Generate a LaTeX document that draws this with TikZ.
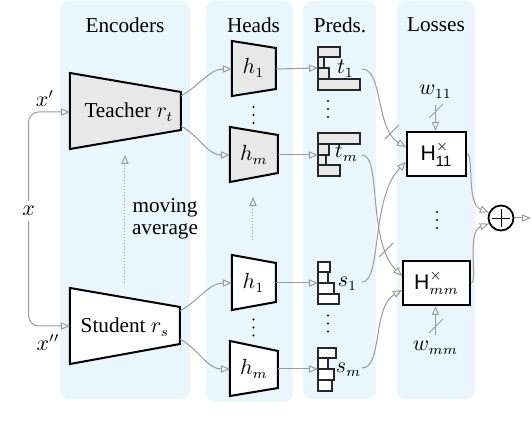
\documentclass[tikz,border=0pt]{standalone}
\usepackage{amsmath}
\usepackage[no-math]{fontspec}
\setmainfont{Liberation Serif}
\setsansfont{Liberation Sans}
\usetikzlibrary{arrows.meta,calc}

\definecolor{panelblue}{RGB}{233,246,253}
\definecolor{lightfill}{RGB}{232,232,232}
\definecolor{conngray}{RGB}{155,155,155}

\begin{document}
\begin{tikzpicture}[x=0.5pt,y=-0.5pt,
  font=\fontsize{10.6}{12.7}\selectfont,
  panel/.style={fill=panelblue,rounded corners=4.5pt},
  title/.style={inner sep=0pt},
  teach/.style={draw=black,line width=1pt,fill=lightfill},
  stud/.style={draw=black,line width=1pt,fill=white},
  tbar/.style={draw=black!85,line width=0.65pt,fill=lightfill},
  sbar/.style={draw=black!85,line width=0.65pt,fill=white},
  conn/.style={draw=conngray,line width=0.5pt,-{Triangle[open,length=4.5pt,width=3.6pt]}},
  slashmark/.style={draw=conngray,line width=0.5pt},
  lossbox/.style={draw=black,line width=1pt,minimum height=22pt,inner sep=0pt,fill=white},
  lbl/.style={inner sep=1pt},
  vdotsmark/.pic={\fill (0,0) circle (0.55pt) (0,8) circle (0.55pt) (0,16) circle (0.55pt);},
]
\useasboundingbox (0,0) rectangle (532,432);

% panels
\fill[panel] (60,1) rectangle (190,399);
\fill[panel] (206,1) rectangle (293,402);
\fill[panel] (303,1) rectangle (376,399);
\fill[panel] (397,1) rectangle (475,399);

% titles
\node[title,anchor=base] (tEnc) at (125,33) {Encoders};
\node[title,anchor=base] (tHeads) at (253.5,33) {Heads};
\node[title,anchor=base] (tPreds) at (340,33) {Preds.};
\node[title,anchor=base] (tLoss) at (436,32) {Losses};

% encoders
\draw[teach] (70,73) -- (181,92) -- (181,130) -- (70,149) -- cycle;
\node[lbl,anchor=base] (T) at (129,118) {Teacher $r_t$};
\draw[stud] (70,288) -- (180,307) -- (180,344) -- (70,364) -- cycle;
\node[lbl,anchor=base] (S) at (125,333) {Student $r_s$};
\coordinate (Tin) at (70,112);
\coordinate (Sin) at (70,326);
\coordinate (To1) at (181,96);
\coordinate (To2) at (181,126);
\coordinate (So1) at (180,311);
\coordinate (So2) at (180,339);

% input
\node[inner sep=2.5pt] (xin) at (28.7,211) {$x$};
\node[lbl] (xp) at (45,99) {$x'$};
\node[lbl] (xpp) at (48,343) {$x''$};
\draw[conn,rounded corners=5pt] (xin) |- (Tin);
\draw[conn,rounded corners=5pt] (xin) |- (Sin);

% moving average
\coordinate (maS) at (125,283);
\coordinate (maT) at (125,155);
\draw[conn,densely dotted] (maS) -- (maT);
\node[lbl,align=center,font=\fontsize{10.6}{11}\selectfont] (ma) at (165,219) {moving\\average};
\coordinate (hdS) at (253,240);
\coordinate (hdT) at (253,197);
\draw[conn,densely dotted] (hdS) -- (hdT);

% heads
\draw[teach] (232,41) -- (276,48) -- (276,89) -- (232,96) -- cycle;
\node[lbl] (th1) at (253.5,68) {$h_1$};
\draw[teach] (230,127) -- (278,135) -- (278,173) -- (230,182) -- cycle;
\node[lbl] (thm) at (254,155) {$h_m$};
\draw[stud] (232,255) -- (276,263) -- (276,302) -- (232,310) -- cycle;
\node[lbl] (sh1) at (253.5,283) {$h_1$};
\draw[stud] (230,341) -- (278,351) -- (278,388) -- (230,396) -- cycle;
\node[lbl] (shm) at (254,369) {$h_m$};
\pic at (253.5,107) {vdotsmark};
\pic at (253.5,319.5) {vdotsmark};

\coordinate (th1in) at (232,69);  \coordinate (th1out) at (276,69);
\coordinate (thmin) at (230,155); \coordinate (thmout) at (278,155);
\coordinate (sh1in) at (232,283); \coordinate (sh1out) at (276,283);
\coordinate (shmin) at (230,369); \coordinate (shmout) at (278,369);

\draw[conn] (To1) to[out=30,in=180] (th1in);
\draw[conn] (To2) to[out=-30,in=180] (thmin);
\draw[conn] (So1) to[out=30,in=180] (sh1in);
\draw[conn] (So2) to[out=-30,in=180] (shmin);

% predictions
\foreach \w/\a/\b in {22/47/57, 6/57/68, 11/68/79, 42/79/90}
  \draw[tbar] (318,\a) rectangle (318+\w,\b);
\foreach \w/\a/\b in {42/133/144, 11/144/155, 8/155/165, 22/165/176}
  \draw[tbar] (318,\a) rectangle (318+\w,\b);
\foreach \w/\a/\b in {12/262/272, 10/272/283, 16/283/294, 21/294/304}
  \draw[sbar] (318,\a) rectangle (318+\w,\b);
\foreach \w/\a/\b in {18/348/358, 10/358/369, 16/369/380, 14/380/391}
  \draw[sbar] (318,\a) rectangle (318+\w,\b);
\coordinate (pt1in) at (318,68);
\coordinate (ptmin) at (318,155);
\coordinate (ps1in) at (318,283);
\coordinate (psmin) at (318,369);
\node[lbl,anchor=base] (pt1) at (345.5,74) {$t_1$};
\node[lbl,anchor=base] (ptm) at (346.5,158) {$t_m$};
\node[lbl,anchor=base] (ps1) at (347.5,287) {$s_1$};
\node[lbl,anchor=base] (psm) at (348.5,373) {$s_m$};
\pic at (328,101) {vdotsmark};
\pic at (328,315.5) {vdotsmark};

\draw[conn] (th1out) -- (pt1in);
\draw[conn] (thmout) -- (ptmin);
\draw[conn] (sh1out) -- (ps1in);
\draw[conn] (shmout) -- (psmin);

\coordinate (t1o) at (362,69);
\coordinate (tmo) at (362,155);
\coordinate (s1o) at (362,282);
\coordinate (smo) at (362,368);

% losses
\node[lossbox,minimum width=29.5pt] (H11) at (436.5,154) {$\textsf{H}^{\times}_{\textsf{11}}$};
\node[lossbox,minimum width=33.5pt] (Hmm) at (436.5,283) {$\textsf{H}^{\times}_{mm}$};
\pic at (437,212) {vdotsmark};
\node[inner sep=3pt,anchor=base] (w11) at (435.5,95) {$w_{11}$};
\node[inner sep=3pt,anchor=base] (wmm) at (435.5,351) {$w_{mm}$};
\coordinate (kw1) at (436,111);
\coordinate (kw2) at (436,326);
\draw[conn] (w11.south) -- (w11.south |- H11.north);
\draw[slashmark] ($(kw1)+(-7,7)$) -- ++(14,-14);
\draw[conn] (wmm.north) -- (wmm.north |- Hmm.south);
\draw[slashmark] ($(kw2)+(-7,7)$) -- ++(14,-14);

\draw[conn] (t1o) to[out=0,in=150,out looseness=0.6] coordinate[pos=0.8] (k1) ([yshift=3.5pt]H11.west);
\draw[slashmark] ($(k1)+(-7,7)$) -- ++(14,-14);
\draw[conn] (tmo) to[out=0,in=135,out looseness=0.4] coordinate[pos=0.8] (k2) ([yshift=3.5pt]Hmm.west);
\draw[slashmark] ($(k2)+(-7,7)$) -- ++(14,-14);
\draw[conn] (s1o) to[out=0,in=225,out looseness=0.4] ([yshift=-4pt]H11.west);
\draw[conn] (smo) to[out=0,in=210,out looseness=0.6] ([yshift=-3.5pt]Hmm.west);

% sum
\node[circle,draw=black,line width=0.9pt,minimum size=12.5pt,inner sep=0pt,
  path picture={\draw[line width=0.45pt]
    ($(path picture bounding box.center)+(-4.6pt,0pt)$) -- ++(9.2pt,0pt)
    ($(path picture bounding box.center)+(0pt,-4.6pt)$) -- ++(0pt,9.2pt);}] (plus) at (501,218) {};
\coordinate (out) at (531,218);
\draw[conn] (H11.east) to[out=0,in=160,out looseness=0.3] (plus.155);
\draw[conn] (Hmm.east) to[out=0,in=200,out looseness=0.3] (plus.205);
\draw[conn] (plus.east) -- (out);
\end{tikzpicture}
\end{document}
